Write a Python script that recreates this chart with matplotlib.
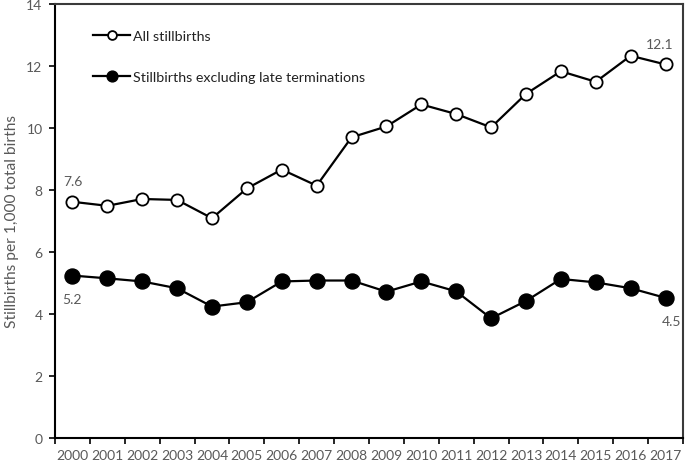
import matplotlib
matplotlib.use("Agg")
import matplotlib.pyplot as plt
from matplotlib.ticker import FixedLocator

years = [str(y) for y in range(2000, 2018)]
all_stillbirths = [7.62, 7.49, 7.71, 7.68, 7.09, 8.05, 8.66, 8.14, 9.70, 10.05,
                   10.76, 10.45, 10.02, 11.10, 11.83, 11.49, 12.33, 12.05]
excl_late = [5.24, 5.15, 5.05, 4.83, 4.24, 4.38, 5.05, 5.08, 5.08, 4.72,
             5.05, 4.73, 3.86, 4.42, 5.13, 5.02, 4.83, 4.52]
y_ticks = [0, 2, 4, 6, 8, 10, 12, 14]

plt.rcParams['font.family'] = ['Lato', 'DejaVu Sans']
gray = '#595959'
fs = 10

fig = plt.figure(figsize=(6.85, 4.64), dpi=100)
ax = fig.add_axes([55/685, 25/464, 628/685, 434/464])

x = list(range(len(years)))
ax.plot(x, all_stillbirths, color='black', lw=1.6, marker='o', ms=8.8,
        mfc='white', mec='black', mew=1.3, label='All stillbirths', zorder=3)
ax.plot(x, excl_late, color='black', lw=1.6, marker='o', ms=10.8,
        mfc='black', mec='black', label='Stillbirths excluding late terminations', zorder=3)

ax.set_xlim(-0.5, len(years) - 0.5)
ax.set_ylim(0, 14)
ax.set_yticks(y_ticks)
ax.set_xticks(x)
ax.set_xticklabels(years)
ax.xaxis.set_minor_locator(FixedLocator([i - 0.5 for i in range(len(years) + 1)]))
ax.tick_params(axis='x', which='major', length=0, pad=8, labelsize=fs, labelcolor=gray)
ax.tick_params(axis='x', which='minor', length=4, width=1.2, direction='out')
ax.tick_params(axis='y', length=4, width=1.2, direction='out', labelsize=fs, labelcolor=gray, pad=5)

for side in ['left', 'bottom']:
    ax.spines[side].set_linewidth(1.5)
    ax.spines[side].set_color('black')
for side in ['top', 'right']:
    ax.spines[side].set_linewidth(1.5)
    ax.spines[side].set_color('#3a3a3a')

ax.set_ylabel('Stillbirths per 1,000 total births', color=gray, fontsize=11.2, labelpad=5)

ax.annotate(f'{all_stillbirths[0]:.1f}', (x[0], all_stillbirths[0]), xytext=(0, 15),
            textcoords='offset points', ha='center', va='center', color=gray, fontsize=fs)
ax.annotate(f'{excl_late[0]:.1f}', (x[0], excl_late[0]), xytext=(0, -17),
            textcoords='offset points', ha='center', va='center', color=gray, fontsize=fs)
ax.annotate(f'{all_stillbirths[-1]:.1f}', (x[-1], all_stillbirths[-1]), xytext=(-4, 15),
            textcoords='offset points', ha='center', va='center', color=gray, fontsize=fs)
ax.annotate(f'{excl_late[-1]:.1f}', (x[-1], excl_late[-1]), xytext=(4, -17),
            textcoords='offset points', ha='center', va='center', color=gray, fontsize=fs)

leg = ax.legend(loc='upper left', frameon=False, fontsize=10.3, handlelength=2.6,
                labelspacing=2.0, bbox_to_anchor=(0.04, 0.97), handletextpad=0.2,
                markerscale=0.72)
for t in leg.get_texts():
    t.set_color('#222222')

fig.savefig('out.png', dpi=100)
